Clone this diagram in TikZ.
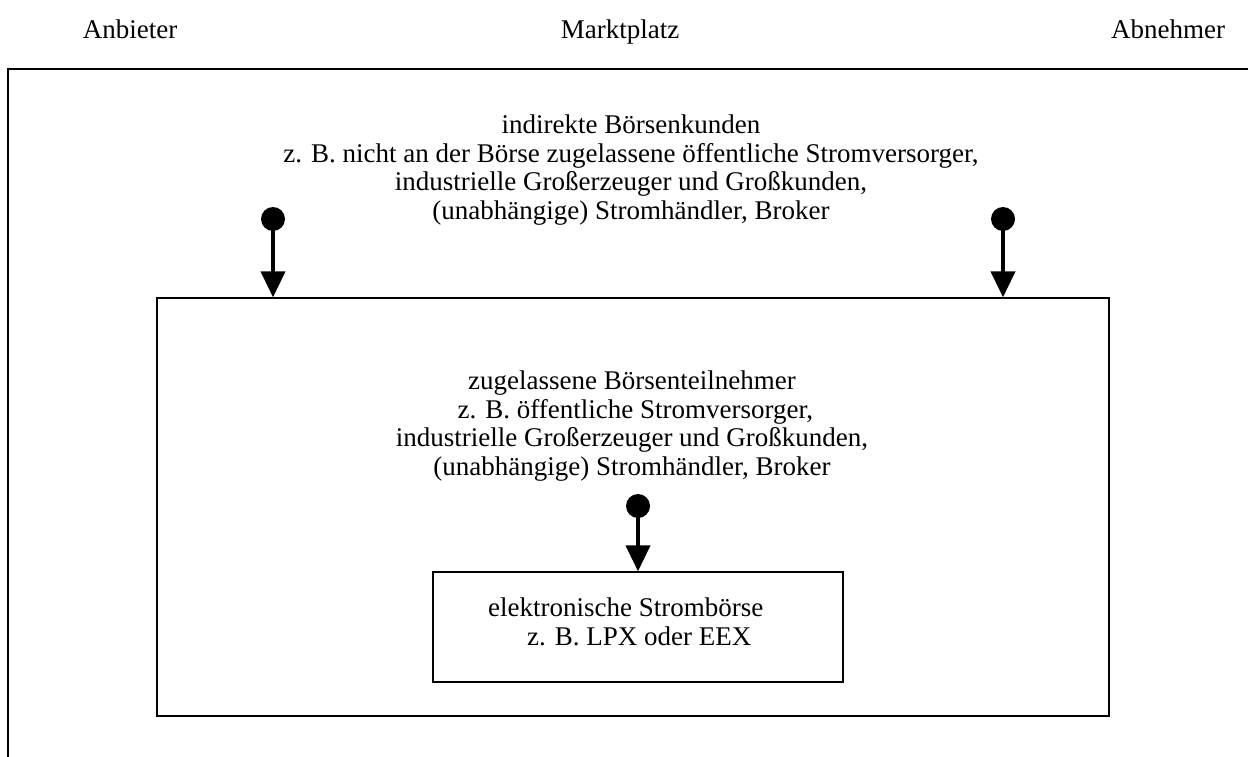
\documentclass[tikz,border=0pt]{standalone}
\usepackage{fontspec}
\setmainfont{Liberation Serif}
\usetikzlibrary{arrows.meta}
\begin{document}
\begin{tikzpicture}[x=1pt,y=-1pt,
  txt/.style={font=\fontsize{27}{28.5}\selectfont, align=center, inner sep=0pt},
  boxline/.style={draw=black, line width=1.3pt},
  dot/.style={circle, fill=black, minimum size=24pt, inner sep=0pt},
  arr/.style={line width=4pt, -{Triangle[width=24pt,length=26pt]}}]
\useasboundingbox (0,0) rectangle (1248,757);
% column headings
\node[txt, anchor=base] (anb) at (130,39) {Anbieter};
\node[txt, anchor=base] (mkt) at (620,39) {Marktplatz};
\node[txt, anchor=base] (abn) at (1168,39) {Abnehmer};
% outer frame (cut off at right and bottom)
\coordinate (obl) at (8,757);
\coordinate (otl) at (8,69);
\coordinate (otr) at (1248,69);
\draw[boxline] (obl) -- (otl) -- (otr);
% outer text
\node[txt] (indir) at (631,170) {indirekte Börsenkunden\\
z. B. nicht an der Börse zugelassene öffentliche Stromversorger,\\
industrielle Großerzeuger und Großkunden,\\
(unabhängige) Stromhändler, Broker};
% middle box
\node[boxline, minimum width=952pt, minimum height=418pt, inner sep=0pt] (mid) at (633,507) {};
\node[txt] (zug) at (632,426) {zugelassene Börsenteilnehmer\\
\ z. B. öffentliche Stromversorger,\\
industrielle Großerzeuger und Großkunden,\\
(unabhängige) Stromhändler, Broker};
% inner box
\node[boxline, minimum width=410pt, minimum height=110pt, inner sep=0pt] (inn) at (638,627) {};
\node[txt, align=left, anchor=west] (elek) at (488,622) {elektronische Strombörse\\
\hspace*{39pt}z. B. LPX oder EEX};
% arrows
\node[dot] (d1) at (273,219) {};
\node[dot] (d2) at (1003,219) {};
\node[dot] (d3) at (638,506) {};
\coordinate (t1) at (d1 |- mid.north);
\coordinate (t2) at (d2 |- mid.north);
\coordinate (t3) at (d3 |- inn.north);
\draw[arr] (d1.center) -- (t1);
\draw[arr] (d2.center) -- (t2);
\draw[arr] (d3.center) -- (t3);
\end{tikzpicture}
\end{document}
